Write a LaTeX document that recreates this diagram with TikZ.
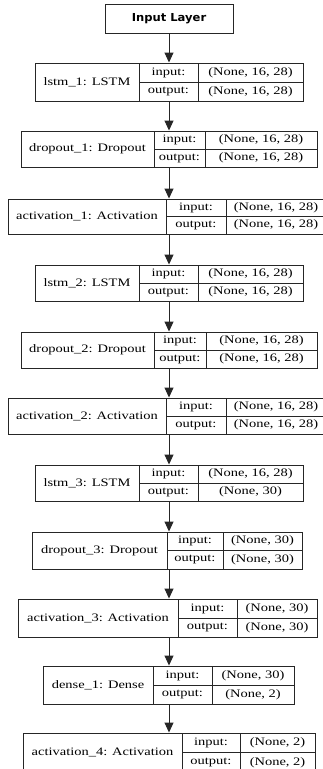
\documentclass[tikz,border=0pt]{standalone}
\usepackage{fontspec}
\usetikzlibrary{arrows.meta}
\newfontfamily\layfont[FakeStretch=1.27]{Liberation Serif}
\newfontfamily\inpfont[FakeStretch=1.05]{DejaVu Sans}
\newcommand\geom[6]{\def\gL{#1}\def\gA{#2}\def\gB{#3}\def\gR{#4}\def\gT{#5}\def\gD{#6}}
\newcommand\lyr[4]{%
  \pgfmathsetmacro\gM{(\gT+\gD)/2}%
  \node[cell, minimum width={(\gA-\gL)*1pt}, minimum height={(\gD-\gT)*1pt}] (#1) at ({(\gL+\gA)/2},{\gM}) {#2};
  \node[cell, minimum width={(\gB-\gA)*1pt}, minimum height={(\gM-\gT)*1pt}] (#1-i) at ({(\gA+\gB)/2},{(\gT+\gM)/2}) {input:};
  \node[cell, minimum width={(\gB-\gA)*1pt}, minimum height={(\gD-\gM)*1pt}] (#1-o) at ({(\gA+\gB)/2},{(\gM+\gD)/2}) {output:};
  \node[cell, minimum width={(\gR-\gB)*1pt}, minimum height={(\gM-\gT)*1pt}] (#1-iv) at ({(\gB+\gR)/2},{(\gT+\gM)/2}) {#3};
  \node[cell, minimum width={(\gR-\gB)*1pt}, minimum height={(\gD-\gM)*1pt}] (#1-ov) at ({(\gB+\gR)/2},{(\gM+\gD)/2}) {#4};
}
\begin{document}
\begin{tikzpicture}[x=1pt,y=-1pt,
  cell/.style={draw=black!85, line width=0.95pt, inner sep=0pt, rectangle,
    font=\layfont\fontsize{11.4}{12}\selectfont},
  inbox/.style={draw=black!85, line width=0.95pt, inner sep=0pt, rectangle,
    font=\inpfont\bfseries\fontsize{11}{12}\selectfont},
  arr/.style={line width=0.95pt, draw=black!85, -{Triangle[length=10pt,width=9pt]}}]
\clip (0,0) rectangle (323,769);
\coordinate (axis) at (169,0);
\node[inbox, minimum width=128pt, minimum height=29pt] (inp) at (169,18.5) {Input Layer};
\geom{35}{139}{198}{303}{63}{101}
\lyr{l1}{lstm\_1: LSTM}{(None, 16, 28)}{(None, 16, 28)}
\geom{21}{154}{205}{317}{131}{167}
\lyr{d1}{dropout\_1: Dropout}{(None, 16, 28)}{(None, 16, 28)}
\geom{8}{166}{226}{326}{199}{234}
\lyr{a1}{activation\_1: Activation}{(None, 16, 28)}{(None, 16, 28)}
\geom{35}{139}{198}{303}{265}{301}
\lyr{l2}{lstm\_2: LSTM}{(None, 16, 28)}{(None, 16, 28)}
\geom{21}{154}{206}{317}{332}{368}
\lyr{d2}{dropout\_2: Dropout}{(None, 16, 28)}{(None, 16, 28)}
\geom{8}{166}{226}{326}{398}{434}
\lyr{a2}{activation\_2: Activation}{(None, 16, 28)}{(None, 16, 28)}
\geom{35}{139}{198}{303}{465}{501}
\lyr{l3}{lstm\_3: LSTM}{(None, 16, 28)}{(None, 30)}
\geom{32}{167}{223}{302}{532}{569}
\lyr{d3}{dropout\_3: Dropout}{(None, 30)}{(None, 30)}
\geom{18}{178}{237}{317}{599}{637}
\lyr{a3}{activation\_3: Activation}{(None, 30)}{(None, 30)}
\geom{43}{153}{212}{294}{666}{704}
\lyr{de1}{dense\_1: Dense}{(None, 30)}{(None, 2)}
\geom{23}{182}{240}{315}{733}{772}
\lyr{a4}{activation\_4: Activation}{(None, 2)}{(None, 2)}
\draw[arr] (inp.south) -- (l1.north -| axis);
\draw[arr] (l1.south -| axis) -- (d1.north -| axis);
\draw[arr] (d1.south -| axis) -- (a1.north -| axis);
\draw[arr] (a1.south -| axis) -- (l2.north -| axis);
\draw[arr] (l2.south -| axis) -- (d2.north -| axis);
\draw[arr] (d2.south -| axis) -- (a2.north -| axis);
\draw[arr] (a2.south -| axis) -- (l3.north -| axis);
\draw[arr] (l3.south -| axis) -- (d3.north -| axis);
\draw[arr] (d3.south -| axis) -- (a3.north -| axis);
\draw[arr] (a3.south -| axis) -- (de1.north -| axis);
\draw[arr] (de1.south -| axis) -- (a4.north -| axis);
\end{tikzpicture}
\end{document}
